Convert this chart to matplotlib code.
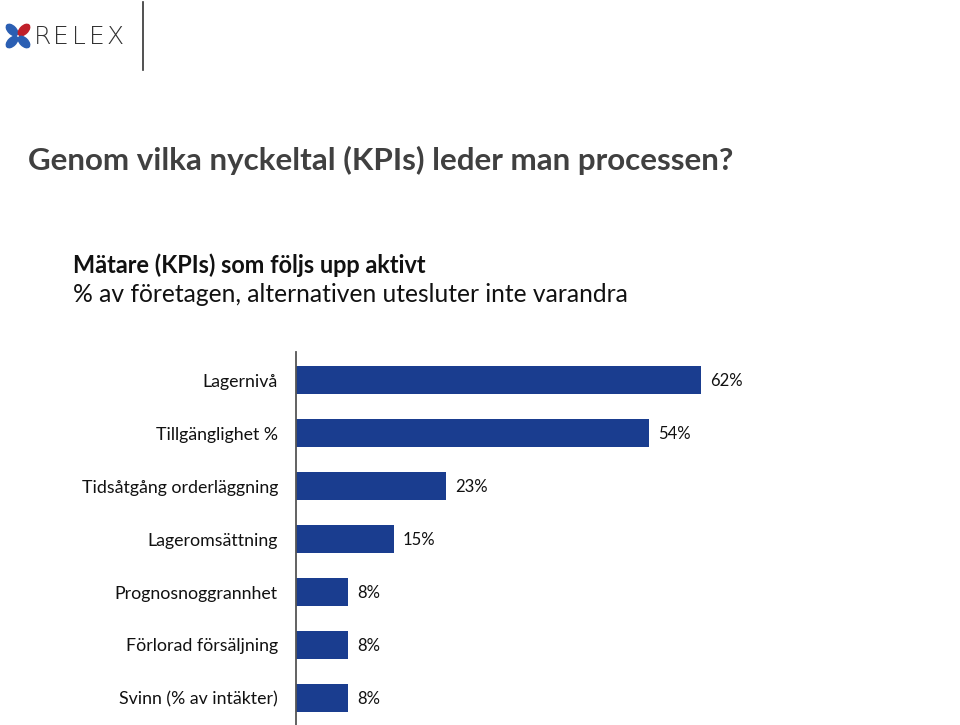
import matplotlib.pyplot as plt
from matplotlib import font_manager
from matplotlib.patches import Ellipse
import matplotlib.lines as mlines

# data
categories = ['Lagernivå', 'Tillgänglighet %', 'Tidsåtgång orderläggning',
              'Lageromsättning', 'Prognosnoggrannhet', 'Förlorad försäljning',
              'Svinn (% av intäkter)']
values = [62, 54, 23, 15, 8, 8, 8]
value_labels = ['62%', '54%', '23%', '15%', '8%', '8%', '8%']

title = 'Genom vilka nyckeltal (KPIs) leder man processen?'
subtitle1 = 'Mätare (KPIs) som följs upp aktivt'
subtitle2 = '% av företagen, alternativen utesluter inte varandra'

installed = {f.name for f in font_manager.fontManager.ttflist}
title_font = 'Liberation Sans Narrow' if 'Liberation Sans Narrow' in installed else 'Lato'

W, H = 960, 725
fig = plt.figure(figsize=(W / 100, H / 100), dpi=100)
renderer = fig.canvas.get_renderer()


def fit_text(x, y, s, width_px, **kw):
    # place a text and scale its size so it spans width_px pixels
    t = fig.text(x / W, 1 - y / H, s, va='center', ha='left', **kw)
    w = t.get_window_extent(renderer).width
    t.set_fontsize(t.get_fontsize() * width_px / w)
    return t


# axes: left edge at x=296 px, top at 352 px, reaches bottom
ax = fig.add_axes([296 / W, 0, 457 / W, (H - 352) / H])
ax.barh(range(len(values)), values, height=0.53, color='#1a3d8f')
ax.set_xlim(0, 70)
ax.set_ylim(6.51, -0.53)
for i, (v, lab) in enumerate(zip(values, value_labels)):
    ax.text(v + 1.4, i + 0.02, lab, va='center', ha='left', fontsize=12,
            family='Lato', color='#111111')
ax.set_yticks(range(len(categories)))
ax.set_yticklabels(categories, fontsize=12.8, family='Lato', color='#111111')
ax.tick_params(axis='y', length=0, pad=13)
ax.set_xticks([])
for s in ['top', 'right', 'bottom']:
    ax.spines[s].set_visible(False)
ax.spines['left'].set_color('#555555')
ax.spines['left'].set_linewidth(1.3)

# title texts
fit_text(28, 160, title, 707, fontsize=28, fontweight='bold', family=title_font,
         color='#404040')
fit_text(73, 265, subtitle1, 355, fontsize=15, fontweight='bold', family='Lato',
         color='#111111')
fit_text(73, 295, subtitle2, 558, fontsize=15, family='Lato', color='#111111')

# logo
lax = fig.add_axes([0, 1 - 75 / H, 160 / W, 75 / H])
lax.set_xlim(0, 160)
lax.set_ylim(75, 0)
lax.axis('off')
cx, cy = 18, 36
petals = [(-6, -6, '#2b5fb3'), (6, -6, '#c0202a'), (-6, 6, '#2b5fb3'), (6, 6, '#2b5fb3')]
for dx, dy, c in petals:
    ang = 45 if dx * dy > 0 else -45
    lax.add_patch(Ellipse((cx + dx, cy + dy), 14, 8, angle=ang, color=c))
for k, ch in enumerate('RELEX'):
    lax.text(43 + k * 18, 37, ch, fontsize=18, family='DejaVu Sans',
             fontweight='light', color='#333333', va='center', ha='center')
fig.add_artist(mlines.Line2D([143 / W, 143 / W], [1 - 2 / H, 1 - 70 / H],
                             color='#333333', lw=1.2))

fig.savefig('out.png', dpi=100)
